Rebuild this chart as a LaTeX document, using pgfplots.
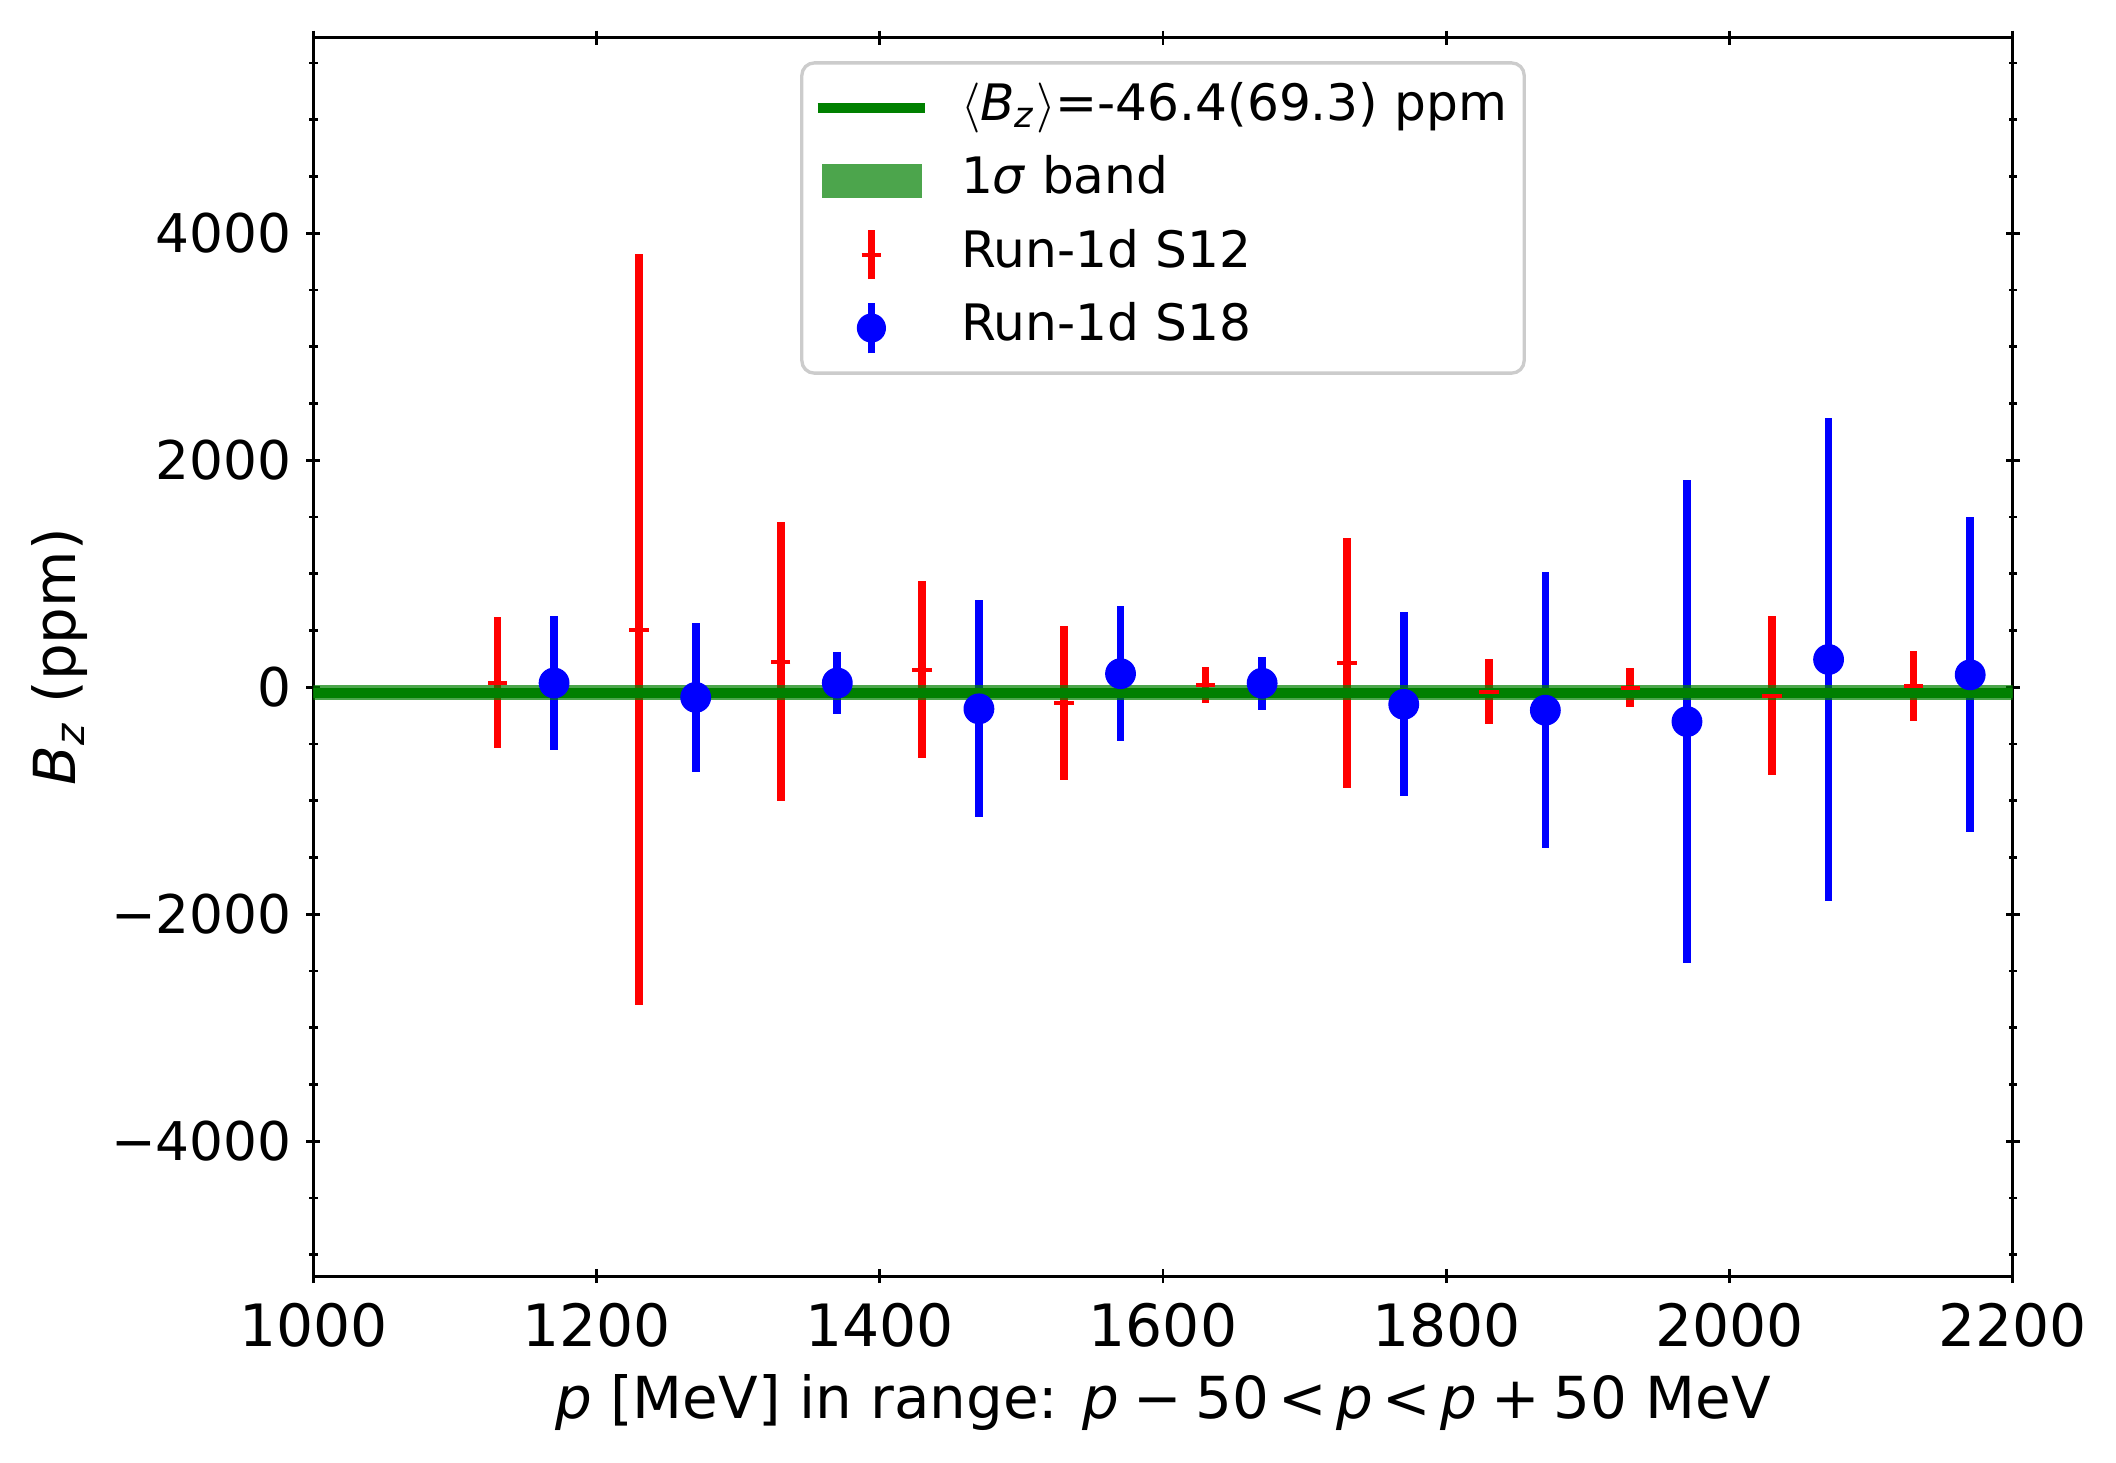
\documentclass[border=0pt]{standalone}
\usepackage{pgfplots}
\pgfplotsset{compat=1.18}
\usepackage{fontspec}
\setmainfont{DejaVu Sans}
\definecolor{mplgreen}{RGB}{0,128,0}
\definecolor{mplred}{RGB}{255,0,0}
\definecolor{mplblue}{RGB}{0,0,255}
\definecolor{legframe}{RGB}{204,204,204}
\newcommand{\bsp}{\hspace{0.24em}}
\newcommand{\rsp}{\hspace{0.16em}}

\pgfplotstableread{
x y err
1130 41 576
1230 507 3308
1330 226 1228
1430 155 778
1530 -137 680
1630 21 160
1730 215 1098
1830 -38 284
1930 -3 170
2030 -75 700
2130 9 308
}\sTwelve
\pgfplotstableread{
x y err
1170 38 592
1270 -89 658
1370 38 275
1470 -190 955
1570 120 593
1670 36 234
1770 -150 812
1870 -202 1216
1970 -302 2128
2070 245 2125
2170 110 1387
}\sEighteen

\begin{document}
\begin{tikzpicture}
\useasboundingbox (-75.2pt,-44.6pt) rectangle (432.6pt,306.25pt);
\begin{axis}[
  at={(0,0)}, anchor=south west,
  scale only axis, width=407.8pt, height=297.2pt,
  xmin=1000, xmax=2200, ymin=-5188, ymax=5723,
  xtick={1000,1200,1400,1600,1800,2000,2200},
  xticklabels={1000,1200,1400,1600,1800,2000,2200},
  ytick={-4000,-2000,0,2000,4000},
  yticklabels={−4000,−2000,0,2000,4000},
  minor ytick={-5000,-4500,-3500,-3000,-2500,-1500,-1000,-500,500,1000,1500,2500,3000,3500,4500,5000,5500},
  tick align=center,
  major tick length=3.4pt, minor tick length=2pt,
  every tick/.style={black, line width=0.65pt},
  axis line style={line width=0.65pt},
  xticklabel style={font=\fontsize{14}{16}\selectfont, anchor=base, yshift=-15.3pt},
  yticklabel style={font=\fontsize{12.8}{15}\selectfont, anchor=east},
  xlabel={\textit{p} [MeV] in range: \textit{p}\bsp−\bsp50\rsp<\rsp\textit{p}\rsp<\rsp\textit{p}\bsp+\bsp50 MeV},
  ylabel={\textit{B}\textsubscript{\textit{z}} (ppm)},
  label style={font=\fontsize{13.9}{16}\selectfont},
  xlabel style={at={(axis description cs:0.5,0)}, anchor=base, yshift=-34.2pt},
  ylabel style={at={(axis description cs:-0.1491,0.5)}, anchor=center},
  legend style={
    at={(0.5,0.981)}, anchor=north,
    draw=legframe, line width=0.8pt, rounded corners=3pt, fill=white,
    font=\fontsize{12.05}{14}\selectfont,
    inner xsep=2.6pt, inner ysep=3.8pt,
    row sep=3.6pt,
    nodes={inner xsep=0pt, inner ysep=0pt, text height=10pt, text depth=4pt},
    /tikz/every odd column/.append style={column sep=7.4pt},
  },
  legend cell align=left,
]
\addlegendimage{legend image code/.code={\draw[sharp corners, mplgreen, line width=2.4pt] (0pt,0pt) -- (25.8pt,0pt);}}
\addlegendentry{$\langle$\textit{B}\textsubscript{\textit{z}}$\rangle$=-46.4(69.3) ppm\kern1.5pt}
\addlegendimage{legend image code/.code={\path[sharp corners, draw=none, fill=mplgreen, fill opacity=0.7] (1pt,-4.1pt) rectangle (25pt,4.1pt);}}
\addlegendentry{1\textit{σ} band}

\addplot[mplred, only marks, mark=-, mark size=2.35pt, mark options={line width=1pt},
  error bars/.cd, y dir=both, y explicit, error mark=none,
  error bar style={line width=1.85pt, mplred},
  /pgfplots/legend image code/.code={\draw[sharp corners, mplred, line width=1.85pt] (12.9pt,-5.9pt) -- (12.9pt,5.9pt); \draw[sharp corners, mplred, line width=0.95pt] (10.55pt,0pt) -- (15.25pt,0pt);}]
  table[x=x, y=y, y error=err] {\sTwelve};
\addlegendentry{Run-1d S12}

\addplot[mplblue, only marks, mark=*, mark size=3.5pt, mark options={draw=none, fill=mplblue},
  error bars/.cd, y dir=both, y explicit, error mark=none,
  error bar style={line width=1.85pt, mplblue},
  /pgfplots/legend image code/.code={\draw[sharp corners, mplblue, line width=1.85pt] (12.9pt,-6.1pt) -- (12.9pt,6.1pt); \path[draw=none, fill=mplblue] (12.9pt,0pt) circle (3.5pt);}]
  table[x=x, y=y, y error=err] {\sEighteen};
\addlegendentry{Run-1d S18}

\addplot[forget plot, draw=none, fill=mplgreen, fill opacity=0.7] coordinates {(1000,-115.7) (2200,-115.7) (2200,22.9) (1000,22.9)} -- cycle;
\addplot[forget plot, mplgreen, line width=2.4pt] coordinates {(1000,-46.4) (2200,-46.4)};
\end{axis}
\end{tikzpicture}
\end{document}
